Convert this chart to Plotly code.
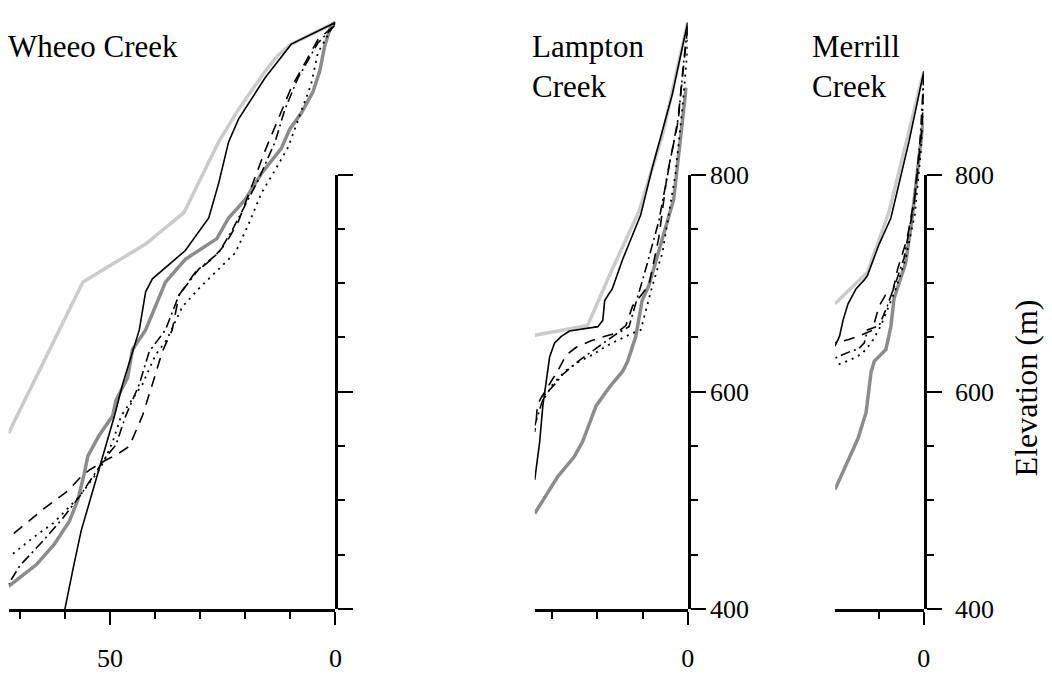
import plotly.graph_objects as go

# ---------------- data: distance upstream (km) and elevation (m) ----------------
# Wheeo Creek
wheeo_light_km = [0, 9.8, 12.7, 15.6, 21.5, 25.9, 33.6, 42.1, 56.0, 72.5]
wheeo_light_m = [940, 920, 910, 895, 860, 830, 765, 736, 701, 562]
wheeo_dark_km = [0, 1.0, 2.4, 3.5, 5.0, 7.5, 10.1, 12.0, 16.4, 20.0, 23.7, 26.3, 33.3, 37.7, 42.1, 45.0,
                 46.1, 48.7, 49.4, 52.4, 54.9, 55.7, 57.1, 59.0, 62.3, 66.3, 72.5]
wheeo_dark_m = [940, 937, 918, 895, 876, 857, 842, 824, 801, 777, 760, 741, 722, 701, 657, 639,
                613, 592, 578, 560, 541, 525, 501, 481, 460, 441, 421]
wheeo_solid_km = [0, 9.8, 15.6, 21.5, 23.7, 25.9, 28.1, 33.3, 40.6, 42.1, 43.5, 47.2, 49.0, 51.6, 53.8,
                  56.4, 58.2, 60.0]
wheeo_solid_m = [940, 920, 889, 851, 830, 792, 760, 730, 704, 692, 657, 607, 578, 540, 510,
                 472, 437, 400]
wheeo_dashed_km = [0.6, 3.9, 9.8, 12.7, 15.6, 18.6, 21.5, 24.4, 27.4, 31.1, 34.7, 36.2, 38.4, 40.6, 42.8,
                   45.7, 48.5, 51.0, 54.6, 56.4, 59.3, 64.5, 71.8]
wheeo_dashed_m = [936, 924, 880, 851, 822, 789, 757, 736, 722, 710, 689, 657, 637, 607, 578,
                  550, 542, 537, 528, 522, 509, 493, 468]
wheeo_dashdot_km = [0.2, 3.9, 8.3, 11.2, 13.4, 17.1, 20.0, 23.0, 25.9, 30.3, 34.7, 37.7, 41.3, 43.5, 46.5,
                    48.7, 50.9, 53.8, 56.7, 60.4, 64.8, 70.0, 72.5]
wheeo_dashdot_m = [937, 921, 889, 860, 830, 795, 772, 748, 728, 713, 689, 657, 637, 607, 578,
                   551, 540, 522, 504, 484, 463, 440, 423]
wheeo_dotted_km = [0.2, 3.9, 5.4, 8.3, 10.5, 13.4, 16.4, 19.3, 22.2, 25.9, 30.3, 34.0, 37.4, 39.9, 42.8,
                   47.5, 49.4, 50.9, 52.4, 54.6, 56.7, 59.3, 62.6, 67.0, 71.8]
wheeo_dotted_m = [939, 912, 883, 851, 825, 804, 783, 754, 728, 713, 695, 678, 648, 634, 607,
                  578, 554, 540, 528, 516, 504, 493, 479, 466, 450]

# Lampton Creek
lampton_light_km = [0, 5.6, 10.8, 16.7, 22.2, 33.9]
lampton_light_m = [940, 836, 766, 713, 661, 652]
lampton_dark_km = [0.35, 3.1, 8.6, 10.1, 11.5, 13.3, 14.4, 17.4, 20.3, 23.3, 25.2, 28.8, 33.9]
lampton_dark_m = [880, 777, 698, 684, 651, 628, 619, 604, 587, 554, 540, 522, 488]
lampton_solid_km = [0, 3.4, 7.8, 10.4, 14.4, 16.7, 18.4, 18.8, 19.9, 22.9, 26.2, 28.0, 29.5, 30.6, 31.4,
                    32.1, 32.8, 33.9]
lampton_solid_m = [940, 874, 807, 763, 722, 695, 684, 666, 660, 658, 656, 651, 645, 632, 607,
                   587, 554, 519]
lampton_dashed_km = [0, 1.2, 2.3, 4.5, 6.4, 8.6, 12.2, 13.7, 15.9, 18.5, 21.4, 24.7, 26.9, 29.1, 29.9,
                     32.4, 33.3, 33.6, 33.9]
lampton_dashed_m = [935, 889, 845, 801, 742, 698, 679, 661, 654, 651, 647, 641, 634, 617, 612,
                    595, 588, 572, 563]
lampton_dashdot_km = [0, 0.9, 2.0, 4.2, 6.4, 9.3, 13.0, 15.9, 20.3, 24.0, 27.7, 28.8, 31.7, 32.4, 33.9]
lampton_dashdot_m = [936, 904, 854, 807, 757, 713, 660, 653, 640, 629, 616, 610, 597, 589, 569]
lampton_dotted_km = [0, 0.1, 1.2, 2.7, 5.6, 7.8, 10.4, 12.2, 15.2, 18.1, 21.1, 24.0, 26.9, 28.4, 29.9,
                     31.8]
lampton_dotted_m = [937, 912, 860, 801, 728, 698, 657, 654, 648, 642, 634, 628, 620, 613, 607, 594]

# Merrill Creek
merrill_light_km = [0, 7.7, 12.5, 19.7]
merrill_light_m = [895, 766, 710, 681]
merrill_dark_km = [0.15, 1.5, 2.6, 4.0, 6.6, 7.3, 8.4, 11.0, 11.7, 12.8, 14.6, 19.7]
merrill_dark_m = [848, 801, 760, 719, 686, 660, 639, 628, 618, 581, 557, 510]
merrill_solid_km = [0, 3.3, 7.3, 9.9, 12.5, 13.2, 15.0, 16.8, 17.9, 18.7, 19.7]
merrill_solid_m = [895, 830, 760, 736, 707, 703, 695, 681, 666, 651, 642]
merrill_dashed_km = [0, 0.3, 2.0, 3.7, 5.8, 6.9, 8.5, 9.9, 11.0, 11.7, 14.6, 16.8, 19.7]
merrill_dashed_m = [892, 846, 780, 741, 713, 692, 689, 679, 663, 656, 651, 648, 645]
merrill_dashdot_km = [0, 0.8, 2.2, 4.4, 6.2, 8.1, 9.9, 12.5, 13.2, 14.6, 15.8, 17.6, 19.7]
merrill_dashdot_m = [892, 833, 772, 723, 701, 679, 661, 657, 645, 639, 638, 635, 631]
merrill_dotted_km = [0, 0.6, 2.0, 4.0, 6.0, 7.7, 9.5, 11.5, 13.7, 16.5, 19.7]
merrill_dotted_m = [886, 824, 763, 723, 697, 679, 661, 646, 635, 629, 624]

# panel titles (as printed, line by line)
title_lines = [["Wheeo Creek"], ["Lampton", "Creek"], ["Merrill", "Creek"]]
y_title = "Elevation (m)"

# ---------------- styles ----------------
STYLES = {
    "light": dict(color="#cbcbcb", width=3.5, dash="solid"),
    "dark": dict(color="#8c8c8c", width=3.5, dash="solid"),
    "solid": dict(color="black", width=1.6, dash="solid"),
    "dashed": dict(color="black", width=1.6, dash="11px,8px"),
    "dashdot": dict(color="black", width=1.6, dash="10px,4px,2px,4px"),
    "dotted": dict(color="black", width=1.8, dash="2px,5px"),
}
ORDER = ["light", "dark", "solid", "dashed", "dashdot", "dotted"]

panels = [
    {"series": {"light": (wheeo_light_km, wheeo_light_m), "dark": (wheeo_dark_km, wheeo_dark_m),
                "solid": (wheeo_solid_km, wheeo_solid_m), "dashed": (wheeo_dashed_km, wheeo_dashed_m),
                "dashdot": (wheeo_dashdot_km, wheeo_dashdot_m), "dotted": (wheeo_dotted_km, wheeo_dotted_m)},
     "xmax": 72.5, "left_px": 8.6, "right_px": 337.7, "ylabels": False, "standoff": 0,
     "title_x": 6},
    {"series": {"light": (lampton_light_km, lampton_light_m), "dark": (lampton_dark_km, lampton_dark_m),
                "solid": (lampton_solid_km, lampton_solid_m), "dashed": (lampton_dashed_km, lampton_dashed_m),
                "dashdot": (lampton_dashdot_km, lampton_dashdot_m), "dotted": (lampton_dotted_km, lampton_dotted_m)},
     "xmax": 33.9, "left_px": 538.3, "right_px": 692.3, "ylabels": True, "standoff": -1,
     "title_x": 534},
    {"series": {"light": (merrill_light_km, merrill_light_m), "dark": (merrill_dark_km, merrill_dark_m),
                "solid": (merrill_solid_km, merrill_solid_m), "dashed": (merrill_dashed_km, merrill_dashed_m),
                "dashdot": (merrill_dashdot_km, merrill_dashdot_m), "dotted": (merrill_dotted_km, merrill_dotted_m)},
     "xmax": 19.67, "left_px": 840.7, "right_px": 930.0, "ylabels": True, "standoff": 8,
     "title_x": 815},
]

W, H = 1052, 678
FONT = "Liberation Serif"
Y400_PX, Y800_PX = 621.7, 167.7
PX_PER_M = (Y400_PX - Y800_PX) / 400.0
YTOP = 946
ytop_px = Y400_PX - (YTOP - 400) * PX_PER_M
yb = 1 - Y400_PX / H
y_data_top = 1 - ytop_px / H
y_axis_top = 1 - Y800_PX / H

fig = go.Figure()
layout = dict(
    width=W, height=H, margin=dict(l=0, r=0, t=0, b=0),
    paper_bgcolor="white", plot_bgcolor="rgba(0,0,0,0)", showlegend=False,
    font=dict(family=FONT, color="black", size=26),
)

for i, p in enumerate(panels, start=1):
    xn = "x" if i == 1 else f"x{i}"
    yn = "y" if i == 1 else f"y{i}"
    yd = f"y{i + 3}"
    for key in ORDER:
        d, e = p["series"][key]
        fig.add_trace(go.Scatter(x=d, y=e, mode="lines", line=STYLES[key], name=key,
                                 xaxis=xn, yaxis=yn, hoverinfo="skip", showlegend=False))
    # carrier trace for the displayed elevation axis
    fig.add_trace(go.Scatter(x=[None], y=[None], mode="lines", xaxis=xn, yaxis=yd,
                             hoverinfo="skip", showlegend=False))

    xkey = "xaxis" if i == 1 else f"xaxis{i}"
    ykey = "yaxis" if i == 1 else f"yaxis{i}"
    layout[xkey] = dict(
        domain=[p["left_px"] / W, p["right_px"] / W], range=[p["xmax"], 0], anchor=yn,
        showline=True, linewidth=3, linecolor="black", showgrid=False, zeroline=False,
        ticks="outside", tickmode="linear", tick0=0, dtick=50, ticklen=13, tickwidth=2, tickcolor="black",
        tickfont=dict(size=26, family=FONT, color="black"), ticklabelstandoff=11,
        minor=dict(ticks="outside", tickmode="linear", tick0=0, dtick=10, ticklen=7, tickwidth=2,
                   tickcolor="black", showgrid=False),
        fixedrange=True,
    )
    layout[ykey] = dict(domain=[yb, y_data_top], range=[400, YTOP], anchor=xn, visible=False,
                        fixedrange=True)
    layout[f"yaxis{i + 3}"] = dict(
        domain=[yb, y_axis_top], range=[400, 800], anchor=xn, side="right",
        showline=True, linewidth=3, linecolor="black", showgrid=False, zeroline=False,
        ticks="outside", tickmode="linear", tick0=0, dtick=200, ticklen=15, tickwidth=2, tickcolor="black",
        showticklabels=p["ylabels"], ticklabelstandoff=p["standoff"],
        tickfont=dict(size=26, family=FONT, color="black"),
        minor=dict(ticks="outside", tickmode="linear", tick0=0, dtick=50, ticklen=7, tickwidth=2,
                   tickcolor="black", showgrid=False),
        fixedrange=True,
    )

def ann(text, x_px, y_px, size=31, angle=0, xanchor="left", yanchor="middle"):
    return dict(text=text, x=x_px / W, y=1 - y_px / H, xref="paper", yref="paper",
                xanchor=xanchor, yanchor=yanchor, showarrow=False, textangle=angle, align="left",
                font=dict(family=FONT, size=size, color="black"))

annotations = []
for p, lines in zip(panels, title_lines):
    # multi-line titles are one text block so the lines never collide
    annotations.append(ann("<br>".join(lines), p["title_x"], 14, yanchor="top"))
annotations.append(ann(y_title, 1033, 391, size=32, angle=-90, xanchor="center"))
layout["annotations"] = annotations
fig.update_layout(**layout)
fig.write_html("out.html")
